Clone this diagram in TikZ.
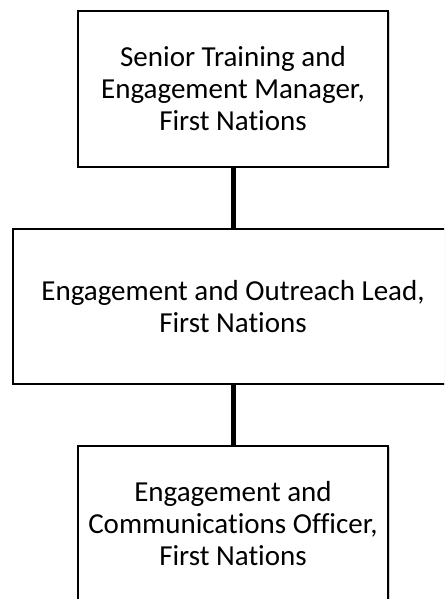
\documentclass[tikz,border=0pt]{standalone}
\usepackage{fontspec}
\setmainfont[Ligatures=NoCommon]{Carlito}
\usetikzlibrary{shadows}
\begin{document}
\begin{tikzpicture}[x=1pt,y=1pt,
  orgbox/.style={draw=black, line width=1.4pt, fill=white, align=center,
    inner sep=0pt, font=\fontsize{29}{32}\selectfont,
    drop shadow={shadow xshift=1.5pt, shadow yshift=-1.5pt, opacity=0.35, fill=gray}},
  link/.style={line width=5pt}]
\clip (0,0) rectangle (444,599);
\useasboundingbox (0,0) rectangle (444,599);
\node[orgbox, minimum width=310pt, minimum height=156pt] (b1) at (233,510)
  {Senior Training and\\Engagement Manager,\\First Nations};
\node[orgbox, minimum width=440pt, minimum height=155pt] (b2) at (233,292.5)
  {Engagement and Outreach Lead,\\First Nations};
\node[orgbox, minimum width=310pt, minimum height=156pt] (b3) at (233,75)
  {Engagement and\\Communications Officer,\\First Nations};
\draw[link] (b1.south) -- (b2.north);
\draw[link] (b2.south) -- (b3.north);
\end{tikzpicture}
\end{document}
